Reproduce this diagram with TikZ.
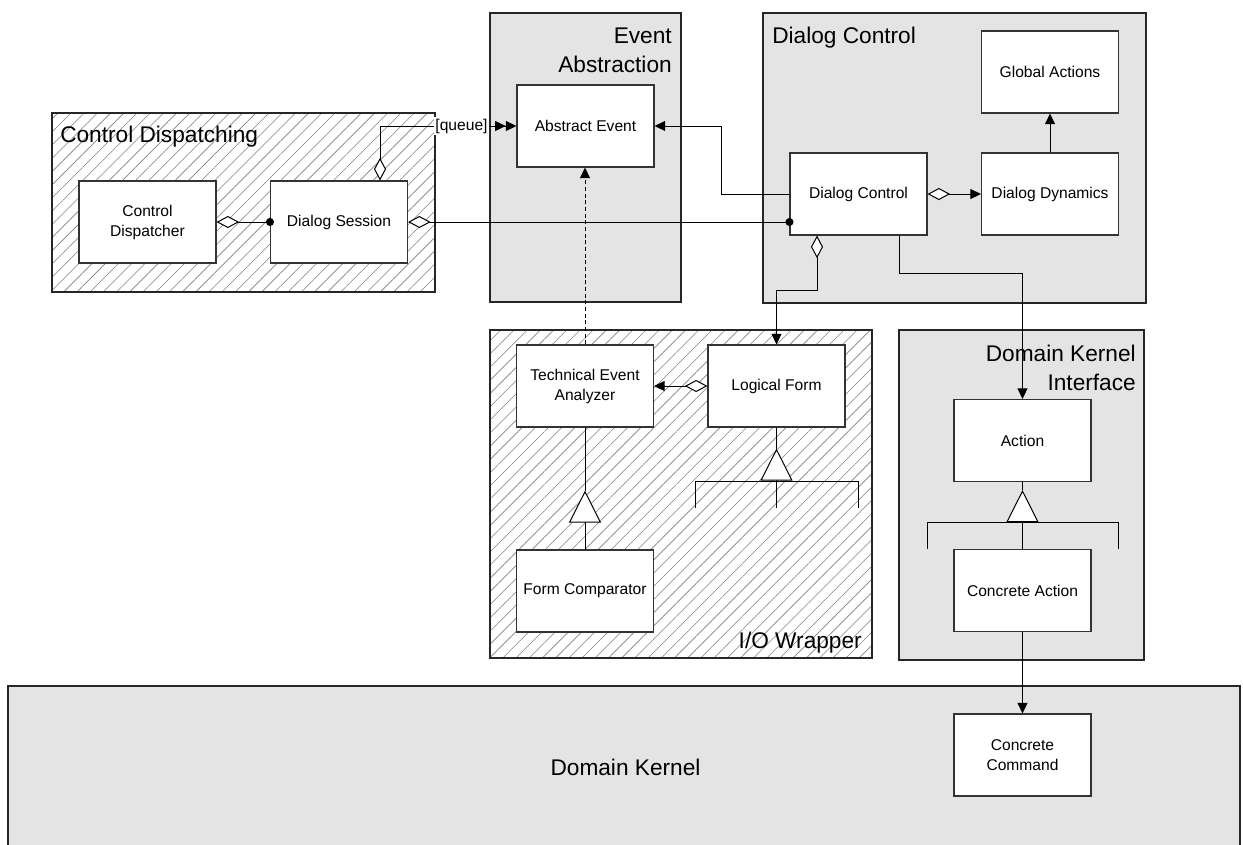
\documentclass[tikz,border=0pt]{standalone}
\usepackage{fontspec}
\setmainfont{Liberation Sans}
\usetikzlibrary{arrows.meta,patterns.meta,calc}
\definecolor{pkggray}{HTML}{E4E4E4}
\newcommand{\smallfont}{\fontsize{11.7}{15}\selectfont}
\newcommand{\bigfont}{\fontsize{17}{21.5}\selectfont}
\tikzset{
	>={Triangle[length=8pt,width=7.5pt]},
	agg/.tip={Diamond[length=17pt,width=9pt,fill=white]},
	gen/.tip={Triangle[length=24pt,width=24pt,fill=white]},
	ball/.tip={Circle[length=6pt]},
	box/.style={draw=black!80, line width=0.8pt, fill=white, minimum width=102.75pt, minimum height=61.5pt, inner sep=0pt, align=center, font=\smallfont},
	grypkg/.style={draw=black!85, line width=1.4pt, fill=pkggray},
	hatchpkg/.style={draw=black!85, line width=1.4pt, pattern={Lines[angle=45,distance=7pt,line width=0.45pt]}, pattern color=black!50},
	ttl/.style={inner sep=0pt, font=\bigfont},
	conn/.style={line width=0.75pt}
}
\begin{document}
\begin{tikzpicture}[x=0.75pt, y=-0.75pt]
		%%%%% START %%%%%
		\useasboundingbox (0,0) rectangle (1243,844);
		
		% packages
		\draw[hatchpkg] (52,113) rectangle (435,292);
		\draw[grypkg] (490,13) rectangle (681,302);
		\draw[grypkg] (763,13) rectangle (1146,303);
		\draw[hatchpkg] (490,330) rectangle (872,658);
		\draw[grypkg] (899,330) rectangle (1144,660);
		\draw[grypkg] (8,686) rectangle (1240,870);
		
		\node[ttl, anchor=base west] (tdisp) at (60,142) {Control Dispatching};
		\node[ttl, anchor=north east, align=right] (tevabs) at (672,28) {Event\\Abstraction};
		\node[ttl, anchor=base west] (tdctl) at (772,43) {Dialog Control};
		\node[ttl, anchor=north east, align=right] (tdki) at (1136,345) {Domain Kernel\\Interface};
		\node[ttl, anchor=base east] (tiow) at (862,648) {I/O Wrapper};
		\node[ttl, anchor=base] (tdk) at (625.5,775) {Domain Kernel};
		
		% classes
		\node[box] (cdisp) at (147.5,222) {Control\\Dispatcher};
		\node[box] (dsess) at (339,222) {Dialog Session};
		\node[box] (absev) at (585.5,126) {Abstract Event};
		\node[box] (globact) at (1050,72) {Global Actions};
		\node[box] (dctl) at (858.5,194) {Dialog Control};
		\node[box] (ddyn) at (1050,194) {Dialog Dynamics};
		\node[box] (tevan) at (585,386) {Technical Event\\Analyzer};
		\node[box] (lform) at (776.5,386) {Logical Form};
		\node[box] (fcomp) at (585,591) {Form Comparator};
		\node[box] (action) at (1022.5,440.5) {Action};
		\node[box] (caction) at (1022.5,590.5) {Concrete Action};
		\node[box] (ccmd) at (1022.5,755) {Concrete\\Command};
		
		\node[inner sep=1pt, fill=white, font=\smallfont] (queue) at (461.5,126) {[queue]};
		
		% connectors
		\draw[conn, {agg}-{ball}, shorten >=-3pt] (cdisp.east) -- (dsess.west);
		\draw[conn, {agg}-] ($(dsess.north)+(41,0)$) |- (queue.west);
		\draw[conn, -{Triangle[length=8pt,width=7.5pt,sep=0pt]Triangle[length=8pt,width=7.5pt]}] (queue.east) -- (absev.west);
		\draw[conn, {agg}-{ball}, shorten >=-3pt] (dsess.east) -- (dsess.east -| dctl.west);
		\draw[conn, ->] (dctl.west) -- ++(-68,0) |- (absev.east);
		\draw[conn, {agg}->] (dctl.east) -- (ddyn.west);
		\draw[conn, ->] (ddyn.north) -- (globact.south);
		\draw[conn, {agg}->] ($(dctl.south)+(-41.5,0)$) -- ++(0,55) -| (lform.north);
		\draw[conn, ->] ($(dctl.south)+(40.5,0)$) -- ++(0,38) -| (action.north);
		\draw[conn, dash pattern=on 3pt off 2pt, ->] (tevan.north) -- (tevan.north |- absev.south);
		\draw[conn, {agg}->] (lform.west) -- (tevan.east);
		\draw[conn, ->] (caction.south) -- (ccmd.north);
		
		% generalizations
		\draw[conn] (tevan.south) -- ++(0,63) coordinate (teapex);
		\draw[conn, -{gen}] (fcomp.north) -- (teapex);
		
		\draw[conn] (lform.south) -- ++(0,21) coordinate (lfapex);
		\draw[conn, -{gen}] (776.5,508) -- (lfapex);
		\draw[conn] (695,508) |- (858,481) -- (858,508);
		
		\draw[conn] (action.south) -- ++(0,8) coordinate (acapex);
		\draw[conn, -{gen}] (caction.north) -- (acapex);
		\draw[conn] (927,549) |- (1118,522) -- (1118,549);
		
		%%%%% END %%%%%
	\end{tikzpicture}
\end{document}
